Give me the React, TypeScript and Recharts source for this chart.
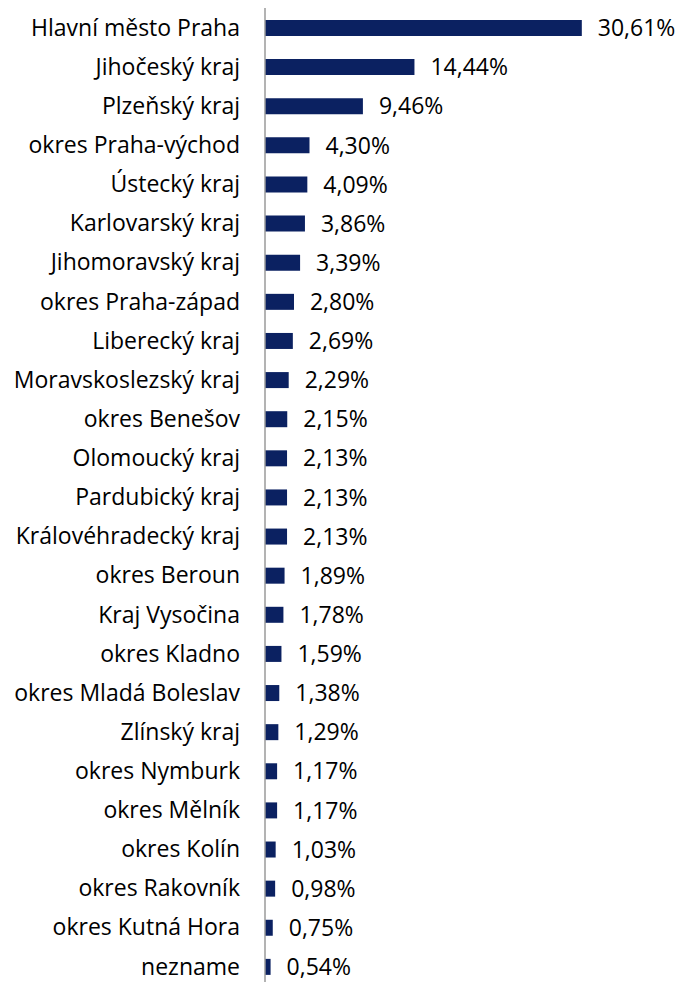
import React from "react";
import { BarChart, Bar, XAxis, YAxis, LabelList } from "recharts";

const regions = [
  "Hlavní město Praha",
  "Jihočeský kraj",
  "Plzeňský kraj",
  "okres Praha-východ",
  "Ústecký kraj",
  "Karlovarský kraj",
  "Jihomoravský kraj",
  "okres Praha-západ",
  "Liberecký kraj",
  "Moravskoslezský kraj",
  "okres Benešov",
  "Olomoucký kraj",
  "Pardubický kraj",
  "Královéhradecký kraj",
  "okres Beroun",
  "Kraj Vysočina",
  "okres Kladno",
  "okres Mladá Boleslav",
  "Zlínský kraj",
  "okres Nymburk",
  "okres Mělník",
  "okres Kolín",
  "okres Rakovník",
  "okres Kutná Hora",
  "nezname",
];

const shares = [
  30.61, 14.44, 9.46, 4.3, 4.09, 3.86, 3.39, 2.8, 2.69, 2.29, 2.15, 2.13, 2.13,
  2.13, 1.89, 1.78, 1.59, 1.38, 1.29, 1.17, 1.17, 1.03, 0.98, 0.75, 0.54,
];

const data = regions.map((name, i) => ({ name, value: shares[i] }));

const fmt = (v: number) => v.toFixed(2).replace(".", ",") + "%";

const App: React.FC = () => {
  return (
    <div style={{ position: "absolute", left: 0, top: 0, fontFamily: "'Open Sans', sans-serif" }}>
      <BarChart
        width={682}
        height={982}
        data={data}
        layout="vertical"
        margin={{ top: 8, right: 3, bottom: -4, left: 0 }}
        barCategoryGap={0}
      >
        <XAxis type="number" domain={[0, 40]} hide />
        <YAxis
          type="category"
          dataKey="name"
          width={265}
          tickLine={false}
          tickSize={0}
          tickMargin={25}
          axisLine={{ stroke: "#9a9a9a", strokeWidth: 1.5 }}
          tick={{ fill: "#000", fontSize: 23 }}
          interval={0}
        />
        <Bar dataKey="value" fill="#0b2161" barSize={16} isAnimationActive={false}>
          <LabelList
            dataKey="value"
            position="right"
            offset={16}
            formatter={(v: number) => fmt(v)}
            style={{ fill: "#000", fontSize: 23 }}
          />
        </Bar>
      </BarChart>
    </div>
  );
};

export default App;
